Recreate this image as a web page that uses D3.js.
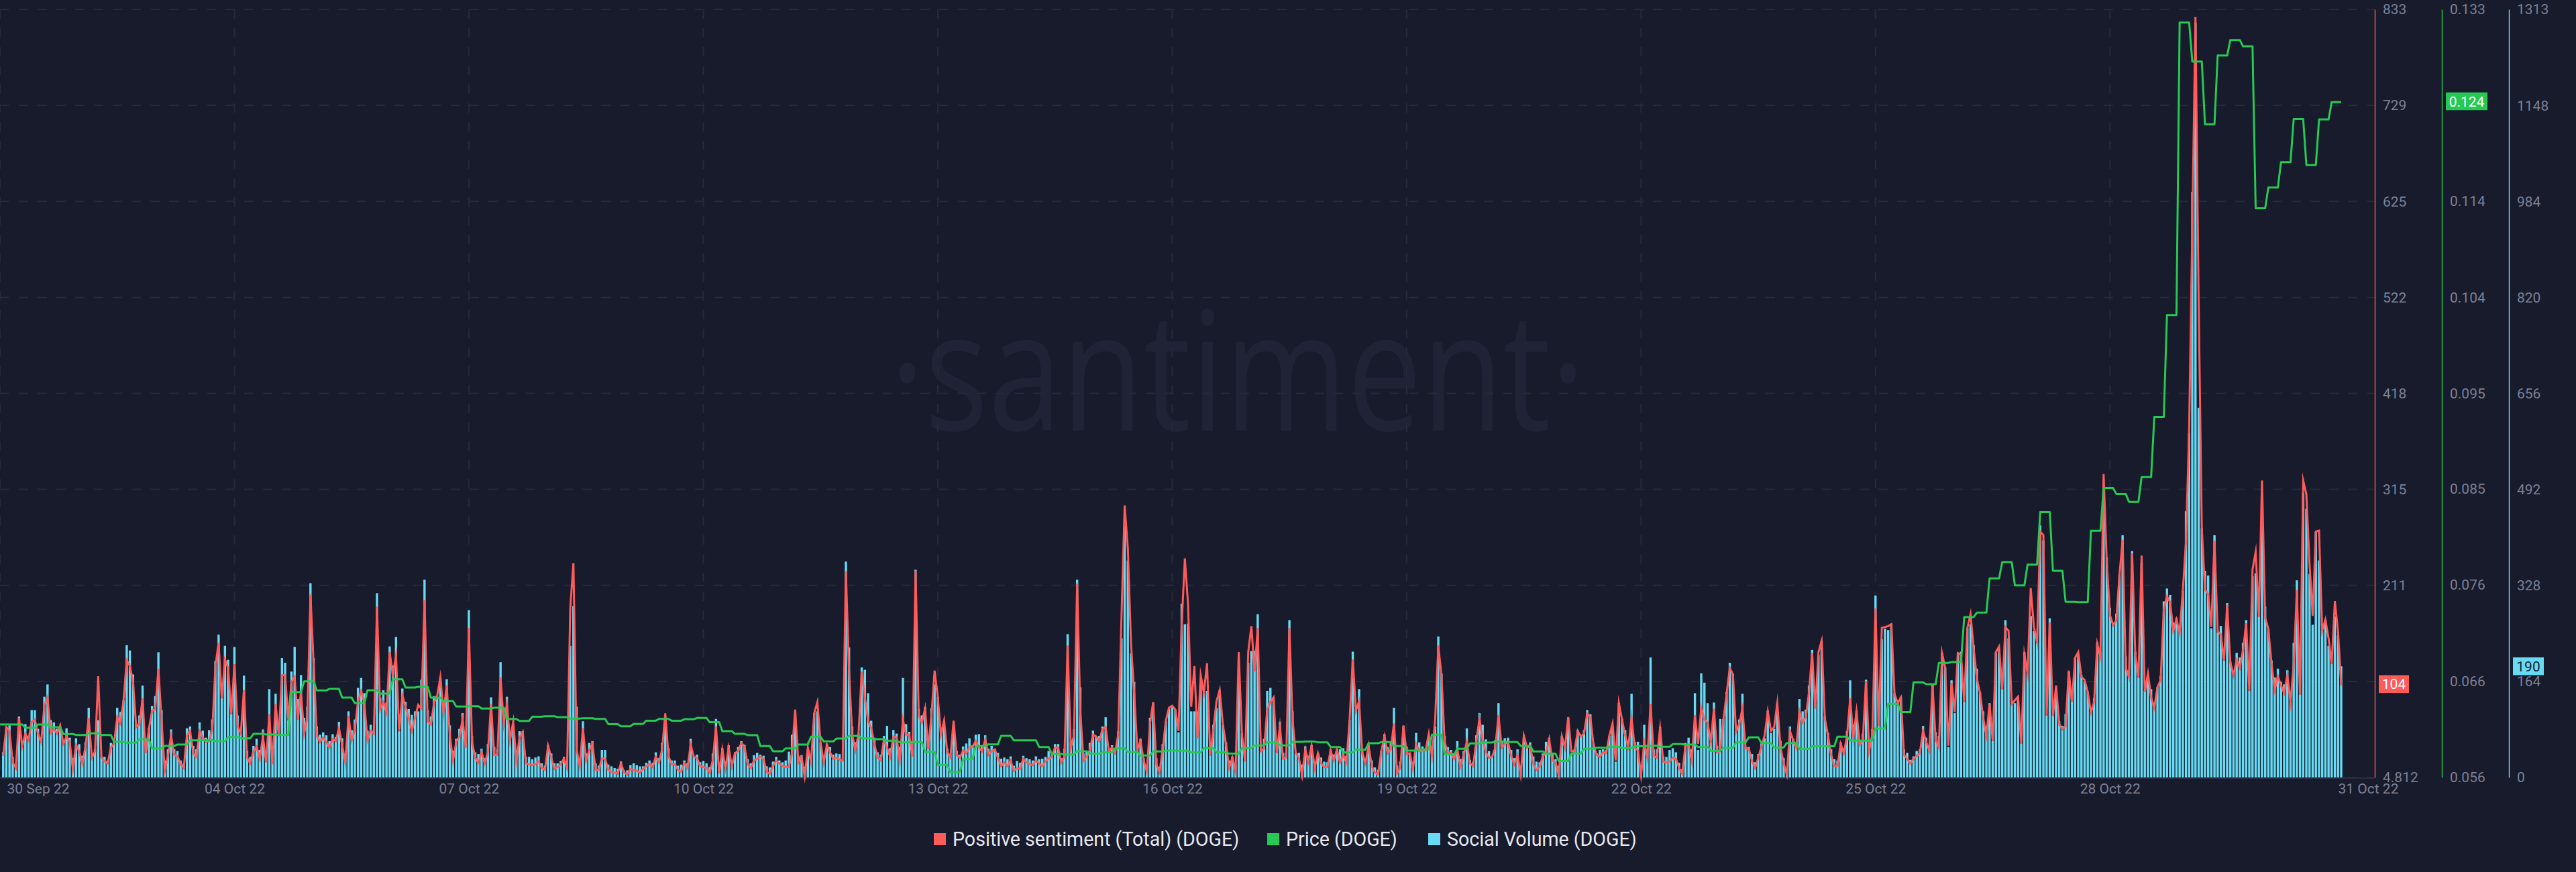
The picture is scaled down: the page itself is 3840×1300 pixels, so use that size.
<!DOCTYPE html>
<html><head><meta charset="utf-8">
<script src="https://cdn.jsdelivr.net/npm/d3@7/dist/d3.min.js"></script>
<style>
html,body{margin:0;padding:0;background:#181b2b;width:3840px;height:1300px;overflow:hidden}
svg{display:block}
text{font-family:Roboto,"Liberation Sans",sans-serif}
</style></head><body>
<svg id="c" width="3840" height="1300"></svg>
<script>
const seriesNames = ["Positive sentiment (Total) (DOGE)","Price (DOGE)","Social Volume (DOGE)"];
const xTickLabels = ["30 Sep 22","04 Oct 22","07 Oct 22","10 Oct 22","13 Oct 22","16 Oct 22","19 Oct 22","22 Oct 22","25 Oct 22","28 Oct 22","31 Oct 22"];
const xTickIndex = [0,74,148,222,296,370,444,518,592,666,739];
const sentimentTicks = [4.812,108.3,211.8,315.4,418.9,522.4,625.9,729.5,833];
const sentimentLabels = ["4.812","108","211","315","418","522","625","729","833"];
const priceTicks = [0.056,0.0656,0.0753,0.0849,0.0945,0.1041,0.1138,0.1234,0.133];
const priceLabels = ["0.056","0.066","0.076","0.085","0.095","0.104","0.114","0.123","0.133"];
const volumeTicks = [0,164,328,492,656,820,984,1148,1313];
const volumeLabels = ["0","164","328","492","656","820","984","1148","1313"];

const socialVolume = [
43,87,89,35,22,104,52,91,71,115,115,83,68,138,159,98,94,83,83,64,84,68,33,67,57,37,60,119,41,48,
98,35,35,29,59,60,119,112,132,226,217,176,92,106,157,64,85,122,139,214,115,29,48,82,48,45,29,24,84,87,
54,48,94,80,68,81,99,199,244,136,225,201,108,223,106,75,174,45,35,54,66,47,82,37,151,54,143,71,204,196,
98,181,223,134,175,102,121,332,204,87,73,77,72,62,74,69,95,67,37,113,81,99,153,170,144,80,90,81,315,136,
149,128,224,191,240,79,152,
129,117,107,113,113,167,338,115,104,139,137,171,129,168,89,45,66,83,110,60,286,71,43,40,49,33,57,137,52,
48,197,106,138,75,90,41,79,79,35,35,31,34,36,24,20,55,41,24,24,28,35,29,225,293,121,29,96,41,59,
62,24,20,47,47,22,19,16,15,27,12,12,21,24,21,19,19,25,29,25,43,33,59,98,50,29,29,20,22,29,
24,66,36,39,26,28,24,18,41,100,22,50,26,55,26,43,52,62,56,31,24,38,42,39,37,19,17,27,35,29,26,29,44,73,98,37,38,
18,49,35,110,113,60,33,58,52,39,41,40,29,369,222,87,60,75,188,184,144,97,68,43,39,71,88,50,81,75,
52,170,91,78,49,355,117,106,120,68,118,159,138,81,96,49,39,85,45,39,53,58,67,55,73,74,54,72,49,54,
49,42,32,34,31,36,20,28,25,37,33,31,29,36,31,32,35,45,41,57,57,33,49,245,60,83,338,154,41,45,
59,80,70,71,87,103,50,55,45,79,238,430,371,212,163,54,66,33,18,102,127,33,18,57,96,117,120,116,77,297,
262,263,113,113,113,159,144,148,
50,90,119,149,90,60,29,36,22,175,75,52,196,216,216,279,45,66,148,153,136,43,95,42,42,269,113,41,42,22,
53,37,55,26,42,34,27,26,48,39,48,48,50,37,98,215,117,151,45,29,56,29,17,13,45,74,52,60,119,20,
27,87,53,42,26,76,60,53,48,71,43,87,241,178,71,52,47,39,62,31,45,84,30,27,72,110,90,65,45,37,
64,127,62,67,68,47,33,48,12,68,54,60,36,27,26,41,61,68,39,31,20,71,54,102,41,48,81,71,81,115,
108,58,41,47,48,47,71,
88,27,127,100,81,48,143,61,61,14,90,45,205,48,48,86,36,35,47,50,43,25,14,59,68,48,144,47,178,162,
127,60,128,54,100,100,146,196,177,79,99,143,52,52,40,26,40,58,67,114,76,83,127,63,33,14,87,66,60,134,
113,116,157,218,148,209,234,104,76,48,31,29,60,50,79,166,90,114,62,75,167,56,83,311,146,236,254,252,262,144,
131,138,48,42,30,36,45,48,88,68,56,159,77,71,213,188,52,166,110,213,215,129,255,262,226,186,146,113,87,127,
62,213,220,151,269,238,125,
127,138,58,214,177,276,250,230,431,405,106,272,106,152,96,88,108,180,138,204,
211,175,165,146,117,136,231,215,453,376,290,265,280,346,414,207,173,387,215,171,
367,148,173,151,125,154,173,301,323,312,265,273,257,319,455,589,1001,1290,632,426,
353,345,255,414,248,259,200,298,198,177,213,205,230,269,148,344,349,275,430,292,
254,200,171,186,163,159,183,129,230,337,142,486,459,348,261,420,371,250,269,225,
194,275,243,190];

const positiveSentiment = [
28,59,55,21,15,69,38,52,45,65,67,52,43,82,91,53,57,52,61,41,49,43,14,40,33,20,38,69,26,33,
114,27,22,20,37,41,70,63,88,131,125,108,59,62,90,31,57,77,78,122,67,12,28,50,29,28,19,15,50,55,
31,27,55,48,43,44,56,125,150,90,132,123,73,127,60,52,99,26,20,33,38,25,49,21,73,19,84,50,115,115,
67,108,113,67,97,52,69,202,127,50,43,48,43,37,46,44,58,40,21,71,45,56,87,98,85,45,55,52,189,78,
86,75,140,115,136,55,93,
81,69,55,69,83,79,196,65,62,85,93,113,75,104,50,23,43,49,67,37,166,43,26,21,32,20,32,84,29,
29,113,63,84,45,65,23,48,54,20,19,18,19,22,15,13,39,26,14,16,19,25,15,187,236,35,17,58,23,34,
41,13,13,25,25,13,11,10,9,20,10,8,14,13,12,10,14,17,19,16,27,21,35,74,28,19,19,13,11,20,
15,40,27,26,17,16,15,10,23,60,9,35,15,37,17,31,33,42,38,19,15,23,25,27,25,10,9,17,23,20,17,16,16,31,78,21,27,
6,37,21,74,86,43,21,40,32,25,26,24,23,227,120,51,34,52,119,91,66,58,41,26,23,45,37,27,49,48,
23,67,51,51,27,228,71,64,79,35,71,120,92,51,66,32,27,66,29,26,34,31,37,38,44,37,33,46,29,33,
35,26,17,21,17,23,12,15,14,25,21,19,18,23,20,17,22,25,27,37,37,21,27,147,37,50,214,76,23,27,
34,51,49,44,57,59,33,37,31,52,178,298,252,149,96,35,44,23,11,63,86,19,10,35,66,80,82,78,55,170,
241,192,81,125,47,115,96,128,
28,57,87,99,62,40,15,26,11,140,52,22,140,168,119,166,33,36,78,86,91,31,60,25,26,166,67,31,26,7,
35,22,39,15,31,20,16,16,34,23,35,21,29,21,67,132,77,87,31,20,39,17,10,8,33,49,31,35,63,9,
15,61,30,31,14,41,33,34,34,52,28,67,147,115,43,32,31,25,35,17,29,43,20,17,45,68,45,32,26,27,
37,72,37,41,43,28,19,29,8,50,37,39,19,13,16,28,31,46,23,21,8,49,37,70,33,33,55,49,52,74,
70,40,29,27,32,31,50,
63,23,85,67,50,38,69,37,34,7,43,26,84,28,26,58,22,21,22,26,25,15,9,39,40,23,72,41,80,67,
64,43,79,32,33,67,95,123,116,54,63,79,36,36,23,15,26,38,50,76,55,59,85,38,20,8,55,45,37,76,
64,70,96,139,79,140,152,69,50,29,17,17,41,31,49,90,48,76,40,45,109,34,51,187,60,166,167,168,170,95,
85,91,29,25,20,25,28,31,55,43,34,104,45,37,139,123,39,107,75,139,137,86,166,181,144,111,96,69,50,84,
44,140,146,100,167,163,84,
88,92,41,137,117,209,167,151,270,266,71,172,71,104,62,57,60,120,86,134,
140,113,110,97,75,86,149,135,332,237,180,169,174,223,261,123,113,247,138,113,
244,97,117,91,80,102,110,186,200,194,163,175,161,206,259,380,600,825,518,274,
207,203,167,260,162,159,131,191,129,115,131,123,142,171,98,229,248,178,325,177,
165,128,99,114,104,96,115,86,126,207,94,325,310,235,179,270,271,163,175,155,
127,195,162,104];

const priceEveryFourHours = [
.06131,.06131,.06098,.06131,.06102,.06035,.06026,.06042,.06026,.05956,.05948,.05981,.05891,.05916,.05930,.05972,
.05974,.05963,.06006,.05992,.06037,.06030,.06026,.06456,.06564,.06472,.06488,.06400,.06344,.06474,.06441,.06584,
.06501,.06508,.06400,.06365,.06311,.06315,.06291,.06300,.06185,.06167,.06208,.06214,.06203,.06190,.06194,.06187,
.06134,.06113,.06136,.06169,.06187,.06169,.06183,.06196,.06154,.06064,.06037,.06024,.05914,.05862,.05891,.05930,
.06008,.05961,.05990,.06017,.05992,.05983,.05968,.05952,.05954,.05858,.05726,.05652,.05784,.05916,.05932,.06017,
.05972,.05972,.05905,.05835,.05829,.05862,.05838,.05851,.05891,.05856,.05820,.05860,.05869,.05867,.05851,.05894,
.05851,.05838,.05894,.05921,.05952,.05921,.05956,.05959,.05952,.05905,.05851,.05878,.05943,.05954,.05914,.05869,
.05880,.06028,.05833,.05887,.05941,.05950,.05959,.05954,.05916,.05860,.05838,.05764,.05840,.05887,.05898,.05907,
.05894,.05912,.05918,.05907,.05934,.05930,.05905,.05867,.05896,.05952,.06001,.05945,.05900,.05945,.05885,.05912,
.05912,.06008,.05970,.05968,.06091,.06338,.06255,.06553,.06535,.06748,.06757,.07208,.07252,.07595,.07759,
.07525,.07733,.08260,.07672,.07361,.07357,.08073,.08502,.08442,.08363,.08611,.09214,.10235,.13169,.12777,.12148,
.12837,.12993,.12930,.11306,.11514,.11769,.12200,.11740,.12197,.12371];

const lastSentiment = "104", lastPrice = "0.124", lastVolume = "190";

const BG="#181b2b", RED="#ff5b5b", GREEN="#26c953", CYAN="#68dbf4", TXT="#7c8197", GRID="#252938";
const plotTop=14, plotBottom=1159, plotRight=3540;
const x = d3.scaleLinear().domain([0,739]).range([0,3490]);
const ySent = d3.scaleLinear().domain([4.812,833]).range([plotBottom,plotTop]);
const yPrice = d3.scaleLinear().domain([0.056,0.133]).range([plotBottom,plotTop]);
const yVol = d3.scaleLinear().domain([0,1313]).range([plotBottom,plotTop]);

const svg = d3.select("#c");
svg.append("rect").attr("width",3840).attr("height",1300).attr("fill",BG);

// watermark
svg.append("text").attr("transform","translate(1845,642) scale(1,1.25)").attr("text-anchor","middle")
  .attr("font-size",198).attr("font-weight",400).attr("fill","#1f2335")
  .style("font-family","'Open Sans',Roboto,sans-serif").text("·santiment·");

// grid
svg.append("g").selectAll("line").data(sentimentTicks).join("line")
  .attr("x1",0).attr("x2",plotRight).attr("y1",d=>ySent(d)).attr("y2",d=>ySent(d))
  .attr("stroke",GRID).attr("stroke-width",2).attr("stroke-dasharray","14 14");
svg.append("g").selectAll("line").data(xTickIndex.slice(0,-1)).join("line")
  .attr("x1",d=>x(d)).attr("x2",d=>x(d)).attr("y1",plotTop).attr("y2",plotBottom)
  .attr("stroke",GRID).attr("stroke-width",2).attr("stroke-dasharray","14 14");

// baseline
svg.append("line").attr("x1",0).attr("x2",plotRight).attr("y1",plotBottom+1).attr("y2",plotBottom+1)
  .attr("stroke","#2a2e40").attr("stroke-width",2);

// bars
svg.append("g").selectAll("rect").data(socialVolume).join("rect")
  .attr("x",(d,i)=>x(i+1)-1.7).attr("width",3.4)
  .attr("y",d=>yVol(d)).attr("height",d=>plotBottom-yVol(d)).attr("fill",CYAN);

// sentiment line
svg.append("path").attr("fill","none").attr("stroke",RED).attr("stroke-width",3)
  .attr("stroke-miterlimit",10)
  .attr("d",d3.line().x((d,i)=>x(i+1)).y(d=>ySent(d))(positiveSentiment));

// price line: each value holds for four hourly steps
const pricePts = priceEveryFourHours.flatMap((v,k)=>[[k*4,v],[Math.min(k*4+3,739),v]]);
svg.append("path").attr("fill","none").attr("stroke",GREEN).attr("stroke-width",3)
  .attr("stroke-linejoin","round")
  .attr("d",d3.line().x(d=>x(d[0])).y(d=>yPrice(d[1]))(pricePts));

// y axes
function yAxis(scale,vals,labels,xPos,color){
  const g = svg.append("g").attr("transform",`translate(${xPos},0)`)
    .call(d3.axisRight(scale).tickValues(vals).tickFormat((d,i)=>labels[i]).tickSize(0).tickSizeOuter(0).tickPadding(12));
  g.select(".domain").attr("stroke",color).attr("stroke-width",1.4);
  g.selectAll("text").attr("fill",TXT).attr("font-size",21).style("font-family","Roboto,sans-serif");
  return g;
}
yAxis(ySent,sentimentTicks,sentimentLabels,plotRight,RED);
yAxis(yPrice,priceTicks,priceLabels,3640,GREEN);
yAxis(yVol,volumeTicks,volumeLabels,3740,CYAN);

// x axis
const xAxisG = svg.append("g").attr("transform",`translate(0,${plotBottom})`)
  .call(d3.axisBottom(x).tickValues(xTickIndex).tickFormat((d,i)=>xTickLabels[i]).tickSize(0).tickPadding(9));
xAxisG.select(".domain").remove();
xAxisG.selectAll("text").attr("fill",TXT).attr("font-size",21).style("font-family","Roboto,sans-serif")
  .attr("text-anchor",(d,i)=>i===0?"start":"middle")
  .attr("dx",(d,i)=>i===0?10:(i===xTickIndex.length-1?40:0));

// last value badges
function badge(x0,w,cy,fill,txtCol,label){
  const g=svg.append("g");
  g.append("rect").attr("x",x0).attr("y",cy-13.25).attr("width",w).attr("height",26.5).attr("fill",fill);
  g.append("text").attr("x",x0+w/2).attr("y",cy).attr("dy","0.36em").attr("text-anchor","middle")
    .attr("font-size",21).attr("fill",txtCol).style("font-family","Roboto,sans-serif").text(label);
}
badge(3546,45,ySent(104)-2,RED,"#fff",lastSentiment);
badge(3646,62,151,GREEN,"#fff",lastPrice);
badge(3746,46,yVol(190),CYAN,BG,lastVolume);

// legend
const legendX=[1392,1889,2129], legendCol=[RED,GREEN,CYAN];
const lg=svg.append("g");
seriesNames.forEach((n,i)=>{
  lg.append("rect").attr("x",legendX[i]).attr("y",1242).attr("width",18).attr("height",18).attr("fill",legendCol[i]);
  lg.append("text").attr("x",legendX[i]+28).attr("y",1251).attr("dy","0.36em")
    .attr("font-size",28.6).attr("fill","#e6e8ef").style("font-family","Roboto,sans-serif").text(n);
});
</script>
</body></html>
